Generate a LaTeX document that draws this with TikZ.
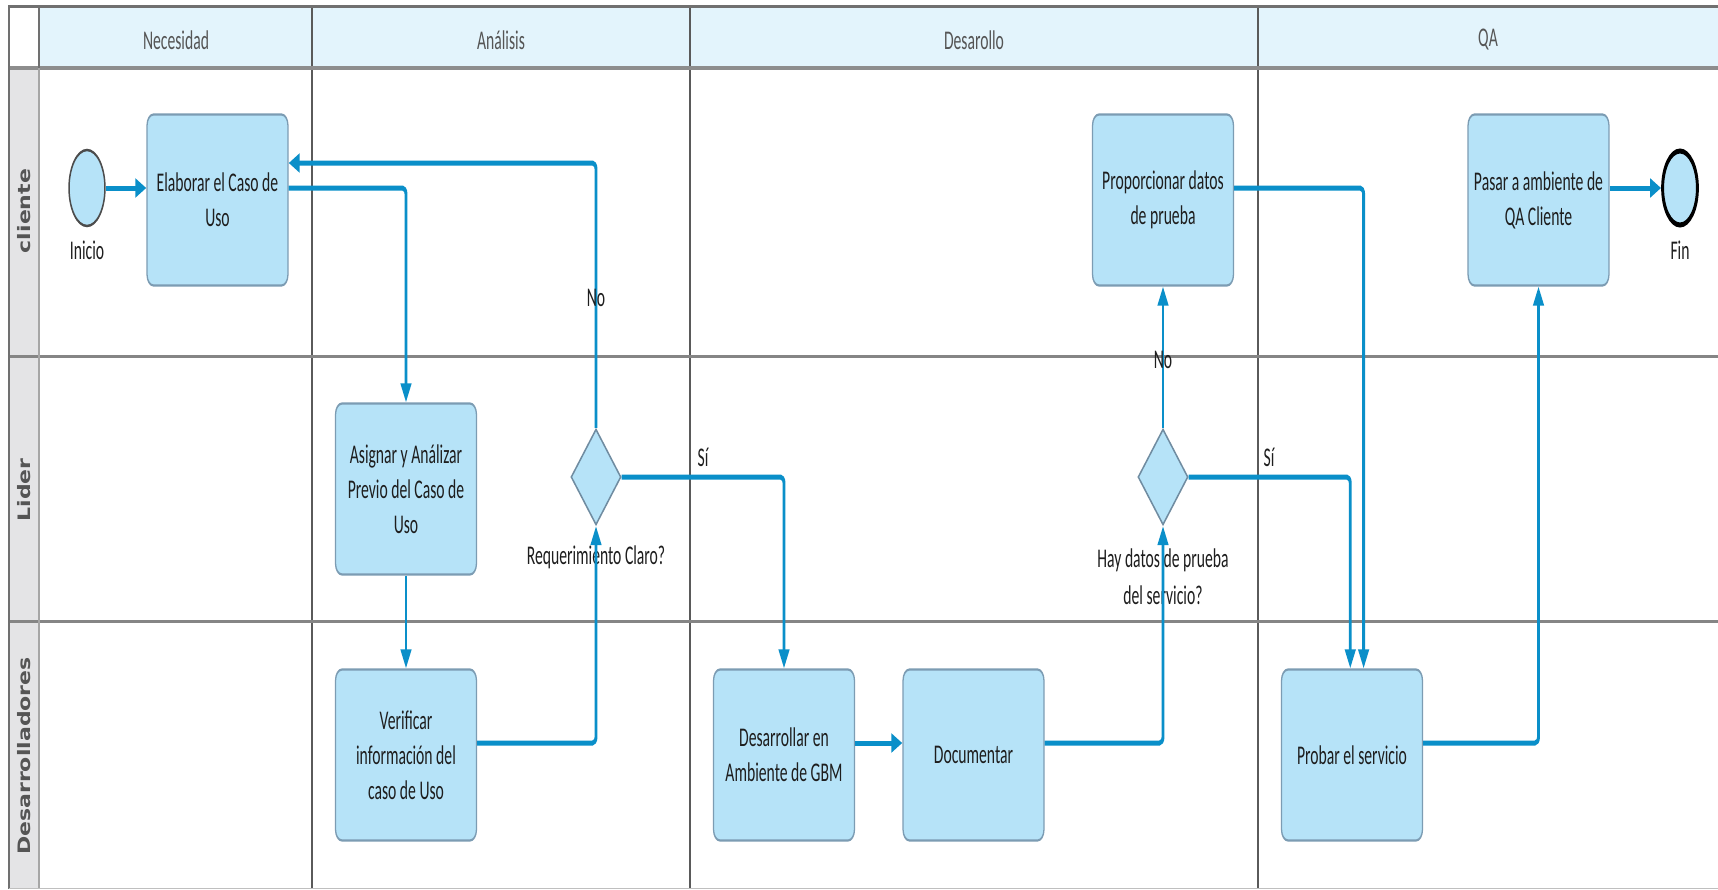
\documentclass[tikz,border=0pt]{standalone}
\usepackage{fontspec}
\setmainfont{Carlito}
\newfontfamily\lanefont{DejaVu Sans}
\usetikzlibrary{arrows.meta, shapes.geometric}

\definecolor{flowblue}{HTML}{0A8FC9}
\definecolor{taskfill}{HTML}{B6E3F8}
\definecolor{taskline}{HTML}{7C9CB3}
\definecolor{headfill}{HTML}{E3F4FC}
\definecolor{lanefill}{HTML}{E4E4E6}
\definecolor{frameline}{HTML}{707070}
\definecolor{gridline}{HTML}{5A5A5A}
\definecolor{textgray}{HTML}{555555}
\definecolor{inkdark}{HTML}{1E1E1E}

\tikzset{
  task/.style={rectangle, rounded corners=11pt, draw=taskline, fill=taskfill,
    line width=2.2pt, minimum width=243pt, minimum height=171pt,
    align=center, inner sep=0pt, text=inkdark,
    font=\fontsize{27}{35}\selectfont},
  gate/.style={diamond, draw=taskline!90!black, fill=taskfill, line width=2.2pt,
    minimum width=86pt, minimum height=96pt, inner sep=0pt},
  startev/.style={ellipse, draw=black!70, fill=taskfill, line width=2.5pt,
    minimum width=62pt, minimum height=76pt, inner sep=0pt},
  endev/.style={ellipse, draw=black, fill=taskfill, line width=5pt,
    minimum width=60pt, minimum height=74pt, inner sep=0pt},
  lbl/.style={inner sep=0pt, align=center, text=inkdark,
    font=\fontsize{27}{37}\selectfont},
  headtext/.style={inner sep=0pt, text=textgray, font=\fontsize{27}{33}\selectfont},
  lanelabel/.style={rotate=90, inner sep=0pt, text=textgray,
    font=\lanefont\bfseries\fontsize{22}{26}\selectfont},
  flow/.style={draw=flowblue, line width=5pt, rounded corners=6pt,
    -{Triangle[length=19pt,width=18pt]}},
}

\begin{document}
\begin{tikzpicture}[x=1pt, y=-1pt]
\useasboundingbox (0,0) rectangle (1718,889);
\fill[white] (0,0) rectangle (1718,889);

% pool frame: header band, lane label column, grid
\fill[headfill] (39,6) rectangle (1718,68);
\fill[lanefill] (9,68) rectangle (39,889);
\foreach \cx in {312,690,1258}
  \draw[gridline, line width=1.3pt] (\cx,6) -- (\cx,889);
\draw[frameline!85, line width=3pt] (9,356) -- (1718,356);
\draw[frameline!85, line width=3pt] (9,621) -- (1718,621);
\draw[frameline!80, line width=3.5pt] (9,68) -- (1718,68);
\draw[frameline, line width=3pt] (8,6) -- (1718,6);
\draw[frameline, line width=2.5pt] (9,6) -- (9,889);
\draw[black!35, line width=1.8pt] (39,68) -- (39,889);
\draw[frameline, line width=2.2pt] (39,6) -- (39,68);
\draw[black!25, line width=1pt] (9,888) -- (1718,888);

% lane titles
\node[lanelabel] (laneCliente) at (24,211) {\scalebox{1}[0.78]{cliente}};
\node[lanelabel] (laneLider) at (24,490) {\scalebox{1}[0.78]{Lider}};
\node[lanelabel] (laneDev) at (24,756) {\scalebox{1}[0.78]{Desarrolladores}};

\begin{scope}[transform canvas={xscale=0.58}, x=1.72414pt, y=-1pt]
  % phase titles
  \node[headtext] (hNecesidad) at (176,40) {Necesidad};
  \node[headtext] (hAnalisis) at (501,40) {Análisis};
  \node[headtext] (hDesarollo) at (974,40) {Desarollo};
  \node[headtext] (hQA) at (1488,40) {QA};

  % events, tasks and gateways
  \node[startev] (inicio) at (87,188) {};
  \node[lbl] (inicioLbl) at (87,250) {Inicio};
  \node[task] (elaborar) at (217.5,200) {Elaborar el Caso de\\Uso};
  \node[task] (asignar) at (406,489) {Asignar y Análizar\\Previo del Caso de\\Uso};
  \node[task] (verificar) at (406,755) {Verificar\\información del\\caso de Uso};
  \node[gate] (req) at (596,477) {};
  \node[lbl] (reqLbl) at (596,557) {Requerimiento Claro?};
  \node[task] (proporcionar) at (1163,200) {Proporcionar datos\\de prueba};
  \node[task] (desarrollar) at (784,755) {Desarrollar en\\Ambiente de GBM};
  \node[task] (documentar) at (973.5,755) {Documentar};
  \node[gate] (hay) at (1163,477) {};
  \node[lbl] (hayLbl) at (1163,577) {Hay datos de prueba\\del servicio?};
  \node[task] (probar) at (1352,755) {Probar el servicio};
  \node[task] (pasar) at (1538.5,200) {Pasar a ambiente de\\QA Cliente};
  \node[endev] (fin) at (1680,188) {};
  \node[lbl] (finLbl) at (1680,250) {Fin};

  % sequence flows
  \draw[flow] (inicio.east) -- (inicio.east -| elaborar.west);
  \draw[flow] ([yshift=12pt]elaborar.east) -| (asignar.north);
  \draw[flow] (asignar.south) -- (verificar.north);
  \draw[flow] ([yshift=12pt]verificar.east) -| (req.south);
  \draw[flow] (req.north) |- ([yshift=37pt]elaborar.east);
  \draw[flow] (req.east) -| (desarrollar.north);
  \draw[flow] ([yshift=12pt]desarrollar.east) -- ([yshift=12pt]documentar.west);
  \draw[flow] ([yshift=12pt]documentar.east) -| (hay.south);
  \draw[flow] (hay.north) -- (proporcionar.south);
  \draw[flow] (hay.east) -| ([xshift=-3pt]probar.north);
  \draw[flow] ([yshift=12pt]proporcionar.east) -| ([xshift=20pt]probar.north);
  \draw[flow] ([yshift=12pt]probar.east) -| (pasar.south);
  \draw[flow] ([yshift=12pt]pasar.east) -- (fin.west);

  % gateway branch labels
  \node[lbl] (noA) at (596,298) {No};
  \node[lbl] (siA) at (703,457) {Sí};
  \node[lbl] (noB) at (1163,360) {No};
  \node[lbl] (siB) at (1269,457) {Sí};
\end{scope}
\end{tikzpicture}
\end{document}
